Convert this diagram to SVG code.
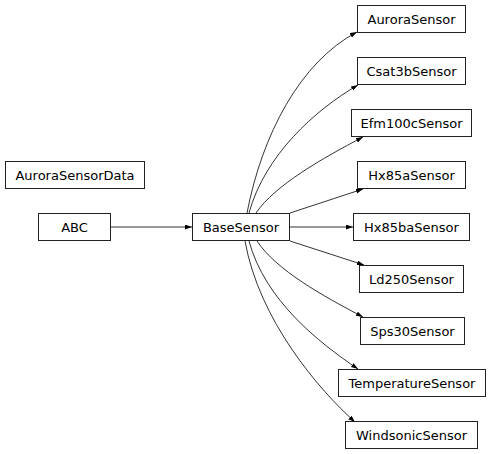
<svg xmlns="http://www.w3.org/2000/svg" width="491" height="454" viewBox="0 0 491 454">
<defs>
<style>
rect{fill:#fff;stroke:#222;stroke-width:1}
text{font-family:"DejaVu Sans",sans-serif;font-size:13px;fill:#000;text-anchor:middle}
.e{fill:none;stroke:#000;stroke-width:0.8;marker-end:url(#a)}
</style>
<marker id="a" markerUnits="userSpaceOnUse" markerWidth="8" markerHeight="6" refX="7" refY="2.4" orient="auto">
<path d="M0,0 L7,2.4 L0,4.8 z" fill="#000"/>
</marker>
</defs>
<rect x="0" y="0" width="491" height="454" style="stroke:none"/>
<g id="edges">
<path class="e" d="M111,227 L192,227"/>
<path class="e" d="M247,213 C262,135 300,62 357,32"/>
<path class="e" d="M249,213 C265,155 315,110 358,85"/>
<path class="e" d="M256,213 C275,185 323,158 363,137"/>
<path class="e" d="M290,213 L363,189"/>
<path class="e" d="M290,227 L353,227"/>
<path class="e" d="M290,241 L364,265"/>
<path class="e" d="M257,241 C276,270 323,296 363,317"/>
<path class="e" d="M249,241 C265,300 318,342 358,369"/>
<path class="e" d="M245,241 C259,320 319,390 355,422"/>
</g>
<g id="AuroraSensorData"><rect x="5.5" y="161.5" width="139" height="27"/><text x="75" y="179.5">AuroraSensorData</text></g>
<g id="ABC"><rect x="38.5" y="213.5" width="72" height="27"/><text x="74.5" y="231.5">ABC</text></g>
<g id="BaseSensor"><rect x="192.5" y="213.5" width="97" height="27"/><text x="241" y="231.5">BaseSensor</text></g>
<g id="AuroraSensor"><rect x="357.5" y="5.5" width="108" height="27"/><text x="411.5" y="23.5">AuroraSensor</text></g>
<g id="Csat3bSensor"><rect x="357.5" y="57.5" width="108" height="27"/><text x="411.5" y="75.5">Csat3bSensor</text></g>
<g id="Efm100cSensor"><rect x="351.5" y="109.5" width="120" height="27"/><text x="411.5" y="127.5">Efm100cSensor</text></g>
<g id="Hx85aSensor"><rect x="357.5" y="161.5" width="108" height="27"/><text x="411.5" y="179.5">Hx85aSensor</text></g>
<g id="Hx85baSensor"><rect x="353.5" y="213.5" width="116" height="27"/><text x="411.5" y="231.5">Hx85baSensor</text></g>
<g id="Ld250Sensor"><rect x="359.5" y="265.5" width="104" height="27"/><text x="411.5" y="283.5">Ld250Sensor</text></g>
<g id="Sps30Sensor"><rect x="360.5" y="317.5" width="104" height="27"/><text x="412.5" y="335.5">Sps30Sensor</text></g>
<g id="TemperatureSensor"><rect x="338.5" y="369.5" width="147" height="27"/><text x="412" y="387.5">TemperatureSensor</text></g>
<g id="WindsonicSensor"><rect x="345.5" y="421.5" width="132" height="27"/><text x="411.5" y="439.5">WindsonicSensor</text></g>
</svg>
